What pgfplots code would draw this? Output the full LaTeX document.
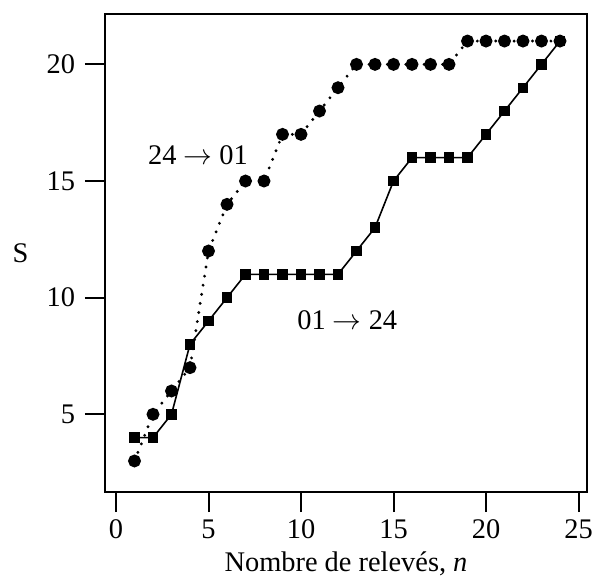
\documentclass[border=0pt]{standalone}
\usepackage{fontspec}
\setmainfont{Liberation Serif}
\usepackage{pgfplots}
\pgfplotsset{compat=1.18}
\begin{document}
\fontsize{14.2}{17}\selectfont
\begin{tikzpicture}
\begin{axis}[
scale only axis,
width=241pt, height=239pt,
xmin=-0.595, xmax=25.46,
ymin=1.67, ymax=22.16,
xtick={0,5,10,15,20,25},
ytick={5,10,15,20},
xtick pos=bottom, ytick pos=left,
tick align=outside,
major tick length=10pt,
axis line style={line width=1pt},
every tick/.style={black, line width=1pt},
/pgf/number format/assume math mode=true,
tick label style={font=\fontsize{14.2}{17}\selectfont},
xticklabel style={yshift=1pt},
xlabel={Nombre de relevés, \textit{n}},
ylabel={S},
xlabel style={at={(axis description cs:0.5,-0.167)}, anchor=base},
ylabel style={rotate=-90, at={(axis description cs:-0.175,0.5)}, anchor=center},
label style={font=\fontsize{14.2}{17}\selectfont},
clip=false,
]
% 24 -> 01
\addplot[black, line width=1.6pt, line cap=round, dash pattern=on 0pt off 4.6pt,
  mark=*, mark size=2.4pt, mark options={solid, fill=black}]
coordinates {(1,3) (2,5) (3,6) (4,7) (5,12) (6,14) (7,15) (8,15) (9,17) (10,17)
 (11,18) (12,19) (13,20) (14,20) (15,20) (16,20) (17,20) (18,20) (19,21) (20,21)
 (21,21) (22,21) (23,21) (24,21)};
% 01 -> 24
\addplot[black, line width=0.8pt, mark=square*, mark size=2.2pt, mark options={solid, fill=black}]
coordinates {(1,4) (2,4) (3,5) (4,8) (5,9) (6,10) (7,11) (8,11) (9,11) (10,11)
 (11,11) (12,11) (13,12) (14,13) (15,15) (16,16) (17,16) (18,16) (19,16) (20,17)
 (21,18) (22,19) (23,20) (24,21)};
\node at (axis cs:4.43,16.1) {24 $\rightarrow$ 01};
\node at (axis cs:12.5,9.04) {01 $\rightarrow$ 24};
\end{axis}
\pgfresetboundingbox
\useasboundingbox ([shift={(-52.5pt,-45.5pt)}]current axis.south west) rectangle ([shift={(244pt,246pt)}]current axis.south west);
\end{tikzpicture}
\end{document}
